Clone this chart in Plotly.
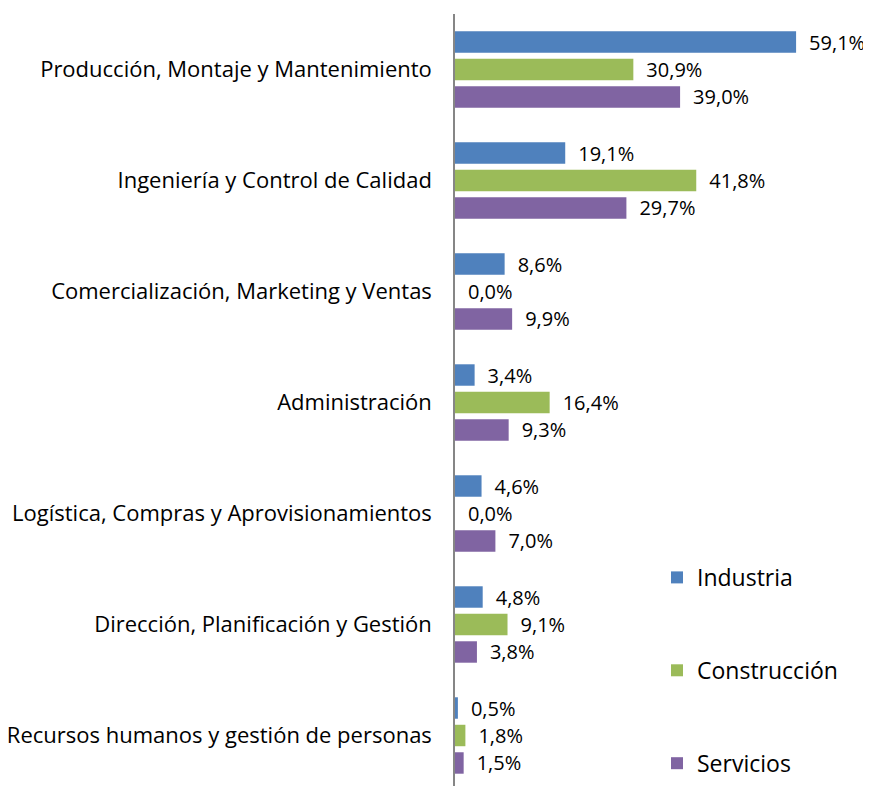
import plotly.graph_objects as go

categories = [
    "Producción, Montaje y Mantenimiento",
    "Ingeniería y Control de Calidad",
    "Comercialización, Marketing y Ventas",
    "Administración",
    "Logística, Compras y Aprovisionamientos",
    "Dirección, Planificación y Gestión",
    "Recursos humanos y gestión de personas",
]
industria = [59.1, 19.1, 8.6, 3.4, 4.6, 4.8, 0.5]
construccion = [30.9, 41.8, 0.0, 16.4, 0.0, 9.1, 1.8]
servicios = [39.0, 29.7, 9.9, 9.3, 7.0, 3.8, 1.5]

series = [
    ("Industria", industria, "#4F81BD"),
    ("Construcción", construccion, "#9BBB59"),
    ("Servicios", servicios, "#8064A2"),
]

FONT = "Open Sans"
fig = go.Figure()
for name, vals, col in series:
    fig.add_trace(go.Bar(
        y=categories, x=vals, name=name, orientation="h",
        marker=dict(color=col, line=dict(width=0)),
        texttemplate="\u2002%{x:.1f}%", textposition="outside",
        constraintext="none", cliponaxis=False,
        textfont=dict(family=FONT, size=20, color="#000000"),
        legendgroup=name,
    ))

fig.update_layout(
    width=863, height=778,
    margin=dict(l=447, r=12, t=6, b=0, pad=0, autoexpand=False),
    paper_bgcolor="white", plot_bgcolor="white",
    barmode="group", bargap=0.257, bargroupgap=0.22,
    separators=", ",
    font=dict(family=FONT, color="#000000"),
    showlegend=True,
    legend=dict(
        x=0.5, xanchor="left", y=0.298, yanchor="top",
        font=dict(family=FONT, size=23, color="#000000"),
        tracegroupgap=60, traceorder="grouped",
        bgcolor="rgba(0,0,0,0)",
    ),
    xaxis=dict(range=[0, 70], showgrid=False, zeroline=False,
               showticklabels=False, showline=False, ticks=""),
    yaxis=dict(range=[6.455, -0.5], showgrid=False, zeroline=False,
               showline=True, linecolor="#868686", linewidth=1.5,
               ticks="", ticklabelstandoff=17,
               tickfont=dict(family=FONT, size=22, color="#000000")),
)

fig.write_html("out.html")
